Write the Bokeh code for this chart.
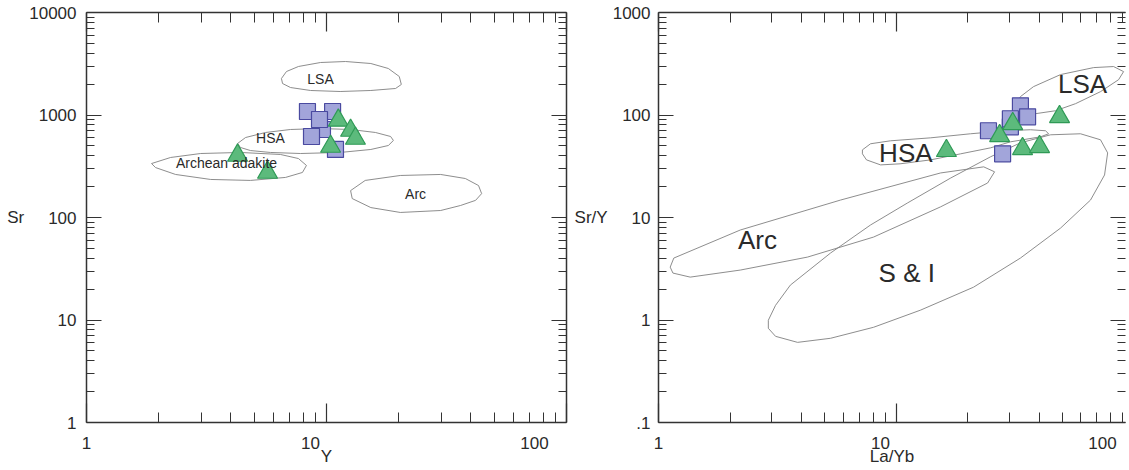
from bokeh.plotting import figure
from bokeh.layouts import row
from bokeh.models import Range1d, LogAxis, FixedTicker, Label
from bokeh.embed import file_html
from bokeh.resources import INLINE

# ---------------- data: left panel (Y vs Sr) ----------------
sq_Y = [8.33, 10.6, 9.62, 9.35, 8.66, 10.9]
sq_Sr = [1082, 1082, 722, 904, 617, 461]
tri_Y = [11.2, 12.6, 13.2, 10.4, 4.26, 5.68]
tri_Sr = [885, 706, 590, 493, 403, 275]

lsa_l_x = [6.49, 6.81, 7.64, 9.44, 12.0, 15.3, 18.1, 20.1, 20.5, 19.4, 15.3, 11.4, 8.58, 7.08, 6.56]
lsa_l_y = [2270, 2656, 2973, 3252, 3326, 3180, 2843, 2375, 1985, 1814, 1734, 1695, 1734, 1854, 2028]
hsa_l_x = [4.26, 4.60, 5.57, 7.08, 9.44, 12.6, 16.0, 18.5, 19.0, 18.1, 15.3, 11.4, 7.79, 5.84, 4.82, 4.38]
hsa_l_y = [527, 603, 675, 722, 738, 722, 675, 617, 564, 504, 461, 431, 421, 431, 450, 482]
arch_x = [1.866, 2.24, 2.99, 4.38, 6.43, 7.64, 8.25, 7.94, 6.75, 4.82, 3.29, 2.35, 1.94]
arch_y = [336, 385, 421, 431, 412, 376, 322, 275, 246, 230, 235, 263, 307]
arc_l_x = [12.6, 14.5, 20.3, 29.9, 37.9, 43.0, 44.3, 41.8, 36.2, 29.9, 20.3, 15.3, 12.8]
arc_l_y = [183, 230, 257, 263, 240, 205, 171, 147, 131, 117, 112, 125, 153]

left_field_names = ["LSA", "HSA", "Archean adakite", "Arc"]
left_field_x = [9.44, 5.84, 3.83, 23.5]
left_field_y = [2270, 603, 344, 171]

# ---------------- data: right panel (La/Yb vs Sr/Y) ----------------
sq_LaYb = [33.4, 30.3, 30.3, 35.8, 24.5, 28.1]
sq_SrY = [123, 76.7, 91.9, 96, 70.2, 41.8]
tri_LaYb = [48.8, 31.0, 27.3, 34.1, 40.2, 16.3]
tri_SrY = [96, 82, 62.6, 46.8, 49, 44.8]

lsa_r_x = [31.9, 33.4, 37.9, 49.3, 67.9, 82.4, 90.8, 86.5, 72.6, 57.0, 46.9, 38.7, 33.4]
lsa_r_y = [126, 151, 189, 248, 290, 297, 265, 221, 169, 129, 110, 103, 108]
hsa_r_x = [7.22, 7.81, 9.48, 14.0, 20.6, 28.9, 36.8, 42.6, 43.9, 40.6, 30.3, 25.0, 18.7, 14.0, 10.4, 8.61, 7.51, 7.22]
hsa_r_y = [45.7, 52.4, 56.0, 59.9, 65.6, 70.2, 71.8, 70.2, 65.6, 61.3, 54.7, 47.8, 41.8, 36.5, 33.4, 32.6, 36.5, 41.8]
arc_r_x = [1.12, 1.16, 2.21, 5.84, 15.4, 23.4, 26.0, 24.3, 15.4, 8.04, 4.24, 2.21, 1.36, 1.15]
arc_r_y = [3.28, 4.02, 7.55, 14.8, 27.2, 31.2, 27.9, 21.7, 12.7, 6.44, 4.11, 3.07, 2.62, 2.87]
si_x = [2.90, 3.11, 3.59, 5.30, 7.81, 11.2, 17.0, 25.0, 33.4, 44.7, 59.8, 72.6, 77.8, 75.5,
        65.9, 49.3, 33.4, 21.2, 12.7, 8.04, 5.30, 3.85, 3.11, 2.90]
si_y = [0.995, 1.39, 2.19, 4.50, 8.45, 13.9, 24.3, 39.1, 53.5, 64.1, 65.6, 57.3, 42.7, 26.0,
        14.8, 7.89, 4.02, 2.09, 1.25, 0.849, 0.663, 0.605, 0.693, 0.830]

right_field_names = ["LSA", "HSA", "Arc", "S & I"]
right_field_x = [61.0, 11.0, 2.61, 11.1]
right_field_y = [202, 42.7, 6.03, 2.86]

# ---------------- ticks ----------------
x_major = [1, 10, 100]
x_minor = [2, 3, 4, 5, 6, 7, 8, 9, 20, 30, 40, 50, 60, 70, 80, 90]
ly_major = [1, 10, 100, 1000, 10000]
ly_minor = [m * d for d in [1, 10, 100, 1000] for m in range(2, 10)]
ry_major = [0.1, 1, 10, 100, 1000]
ry_minor = [m * d for d in [0.1, 1, 10, 100] for m in range(2, 10)]
ly_labels = {1: "1", 10: "10", 100: "100", 1000: "1000", 10000: "10000"}
ry_labels = {0.1: ".1", 1: "1", 10: "10", 100: "100", 1000: "1000"}
x_labels = {1: "1", 10: "10", 100: "100"}

FONT = "Liberation Sans"
AX = "#333333"
TXT = "#2a2a2a"
SQ_FILL, SQ_LINE = "#a2a5da", "#4a4aa0"
TRI_FILL, TRI_LINE = "#5cba7c", "#2f9a56"
FIELD_LINE = "#808080"


def style_axis(ax, major, minor, maj_len, min_len, show_line=True, labels=None, standoff=0):
    ax.ticker = FixedTicker(ticks=major, minor_ticks=minor)
    ax.level = "overlay"
    ax.major_tick_in = maj_len
    ax.major_tick_out = 0
    ax.minor_tick_in = min_len
    ax.minor_tick_out = 0
    if labels is None:
        ax.major_label_text_font_size = "1px"
        ax.major_label_text_color = None
        ax.major_label_standoff = 0
    else:
        ax.major_label_overrides = labels
        ax.major_label_text_font_size = "17px"
        ax.major_label_text_font = FONT
        ax.major_label_text_color = TXT
        ax.major_label_standoff = standoff
    ax.axis_line_color = AX if show_line else None
    ax.axis_line_width = 1.5
    ax.major_tick_line_color = AX
    ax.major_tick_line_width = 1.2
    ax.minor_tick_line_color = AX
    ax.minor_tick_line_width = 1.0


def make_fig(width, xr, label_r, yr, bl, br, ymaj, ymin, ylabels, ystand, xtitle, ytitle, right_line=True):
    p = figure(width=width, height=470, x_axis_type="log", y_axis_type="log",
               x_range=xr, y_range=yr, output_backend="svg", toolbar_location=None,
               min_border_left=bl, min_border_right=br, min_border_top=12, min_border_bottom=48,
               extra_x_ranges={"lab": label_r})
    p.outline_line_color = None
    p.xgrid.grid_line_color = None
    p.ygrid.grid_line_color = None
    p.background_fill_color = "white"
    p.border_fill_color = "white"
    style_axis(p.xaxis[0], x_major, x_minor, 19, 10)
    style_axis(p.yaxis[0], ymaj, ymin, 15, 8, labels=ylabels, standoff=ystand)
    p.yaxis[0].axis_label = ytitle
    p.yaxis[0].axis_label_orientation = "horizontal"
    p.yaxis[0].axis_label_standoff = 2
    # tick-label axis for x (labels only, slightly shifted as in the source figure)
    lab = LogAxis(x_range_name="lab")
    style_axis(lab, x_major, [], 0, 0, show_line=False, labels=x_labels, standoff=14)
    lab.major_tick_line_color = None
    lab.minor_tick_line_color = None
    lab.axis_label = xtitle
    lab.axis_label_standoff = -5
    p.add_layout(lab, "below")
    for ax in (p.yaxis[0], lab):
        ax.axis_label_text_font = FONT
        ax.axis_label_text_font_size = "17px"
        ax.axis_label_text_font_style = "normal"
        ax.axis_label_text_color = TXT
    top = LogAxis()
    style_axis(top, x_major, x_minor, 19, 10)
    p.add_layout(top, "above")
    right = LogAxis()
    style_axis(right, ymaj, ymin, 15, 8, show_line=right_line)
    p.add_layout(right, "right")
    return p


def field_labels(p, xs, ys, names, size):
    for x, y, t in zip(xs, ys, names):
        p.add_layout(Label(x=x, y=y, text=t, text_align="center", text_baseline="middle",
                           text_font=FONT, text_font_size=size, text_color=TXT))


# ---------------- left panel ----------------
p1 = make_fig(570, Range1d(1, 100), Range1d(1, 139), Range1d(1, 10000), 86, 4,
              ly_major, ly_minor, ly_labels, 10, "Y", "Sr")
p1.patches(xs=[lsa_l_x, hsa_l_x, arch_x, arc_l_x], ys=[lsa_l_y, hsa_l_y, arch_y, arc_l_y],
           fill_color=None, line_color=FIELD_LINE, line_width=0.9)
field_labels(p1, left_field_x, left_field_y, left_field_names, "14px")
p1.scatter(sq_Y, sq_Sr, marker="square", size=16, fill_color=SQ_FILL, line_color=SQ_LINE, line_width=1.2)
p1.scatter(tri_Y, tri_Sr, marker="triangle", size=20, fill_color=TRI_FILL, line_color=TRI_LINE, line_width=1.2)

# ---------------- right panel ----------------
p2 = make_fig(558, Range1d(1, 92.5), Range1d(1, 127), Range1d(0.1, 1000), 88, 3,
              ry_major, ry_minor, ry_labels, 8, "La/Yb", "Sr/Y", right_line=False)
p2.patches(xs=[lsa_r_x, hsa_r_x, arc_r_x, si_x], ys=[lsa_r_y, hsa_r_y, arc_r_y, si_y],
           fill_color=None, line_color=FIELD_LINE, line_width=0.9)
field_labels(p2, right_field_x, right_field_y, right_field_names, "26px")
p2.scatter(sq_LaYb, sq_SrY, marker="square", size=16, fill_color=SQ_FILL, line_color=SQ_LINE, line_width=1.2)
p2.scatter(tri_LaYb, tri_SrY, marker="triangle", size=20, fill_color=TRI_FILL, line_color=TRI_LINE, line_width=1.2)

layout = row(p1, p2)
open("out.html", "w").write(file_html(layout, INLINE))
